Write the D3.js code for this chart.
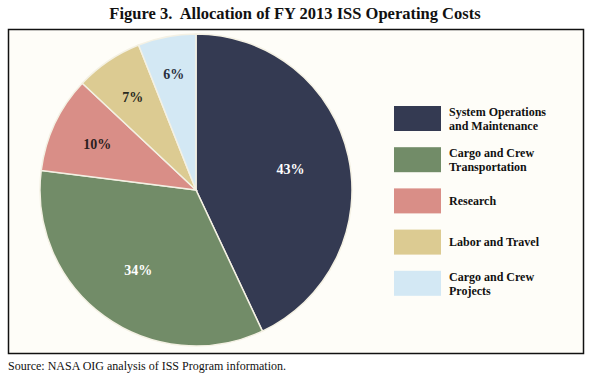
<!DOCTYPE html>
<html>
<head>
<meta charset="utf-8">
<script src="https://cdn.jsdelivr.net/npm/d3@7"></script>
<style>
  body { margin: 0; background: #fff; }
  text { font-family: "Liberation Serif", "Times New Roman", serif; }
</style>
</head>
<body>
<svg></svg>
<script>
const width = 590;
const height = 379;

const categories = [
  ["System Operations", "and Maintenance"],
  ["Cargo and Crew", "Transportation"],
  ["Research"],
  ["Labor and Travel"],
  ["Cargo and Crew", "Projects"]
];
const shares = [43, 34, 10, 7, 6];
const colors = ["#343a52", "#728c68", "#d98e87", "#dccb92", "#d3e8f4"];
const labelColors = ["#ffffff", "#ffffff", "#2a2020", "#2a2a20", "#2a3040"];

const svg = d3.select("svg").attr("width", width).attr("height", height);

svg.append("text")
  .attr("x", 295)
  .attr("y", 19)
  .attr("text-anchor", "middle")
  .attr("font-size", 16.5)
  .attr("font-weight", "bold")
  .attr("fill", "#111")
  .style("white-space", "pre")
  .text("Figure 3.  Allocation of FY 2013 ISS Operating Costs");

svg.append("rect")
  .attr("x", 8.5).attr("y", 29.5)
  .attr("width", 575).attr("height", 324)
  .attr("fill", "#fefdf8")
  .attr("stroke", "#111")
  .attr("stroke-width", 1.5);

const cx = 196, cy = 190, radius = 156;
const pie = d3.pie().sort(null).value(d => d);
const arc = d3.arc().innerRadius(0).outerRadius(radius);
const arcs = pie(shares);

const g = svg.append("g").attr("transform", `translate(${cx},${cy})`);

g.selectAll("path")
  .data(arcs)
  .join("path")
  .attr("d", arc)
  .attr("fill", (d, i) => colors[i])
  .attr("stroke", "#f4f1e4")
  .attr("stroke-width", 1.5);

// label radius picked per slice to sit where the original has them
const labelR = [0.62, 0.63, 0.7, 0.72, 0.76];
g.selectAll("text.pct")
  .data(arcs)
  .join("text")
  .attr("class", "pct")
  .attr("transform", (d, i) => {
    const a = (d.startAngle + d.endAngle) / 2;
    const r = radius * labelR[i];
    return `translate(${r * Math.sin(a)},${-r * Math.cos(a) + 5})`;
  })
  .attr("text-anchor", "middle")
  .attr("font-size", 14)
  .attr("font-weight", "bold")
  .attr("fill", (d, i) => labelColors[i])
  .text(d => `${d.data}%`);

const legend = svg.append("g").attr("transform", "translate(394,106)");
const item = legend.selectAll("g")
  .data(categories)
  .join("g")
  .attr("transform", (d, i) => `translate(0,${i * 41.2})`);

item.append("rect")
  .attr("width", 47)
  .attr("height", 25)
  .attr("fill", (d, i) => colors[i]);

// two-line entries get one text per line so the lines never share a box
item.each(function (d) {
  const lineGap = 13.8;
  const y0 = d.length === 1 ? 16.5 : 10;
  d.forEach((line, j) => {
    d3.select(this).append("text")
      .attr("x", 55)
      .attr("y", y0 + j * lineGap)
      .attr("font-size", 12)
      .attr("font-weight", "bold")
      .attr("fill", "#111")
      .text(line);
  });
});

svg.append("text")
  .attr("x", 8)
  .attr("y", 370)
  .attr("font-size", 12)
  .attr("fill", "#111")
  .text("Source: NASA OIG analysis of ISS Program information.");
</script>
</body>
</html>
